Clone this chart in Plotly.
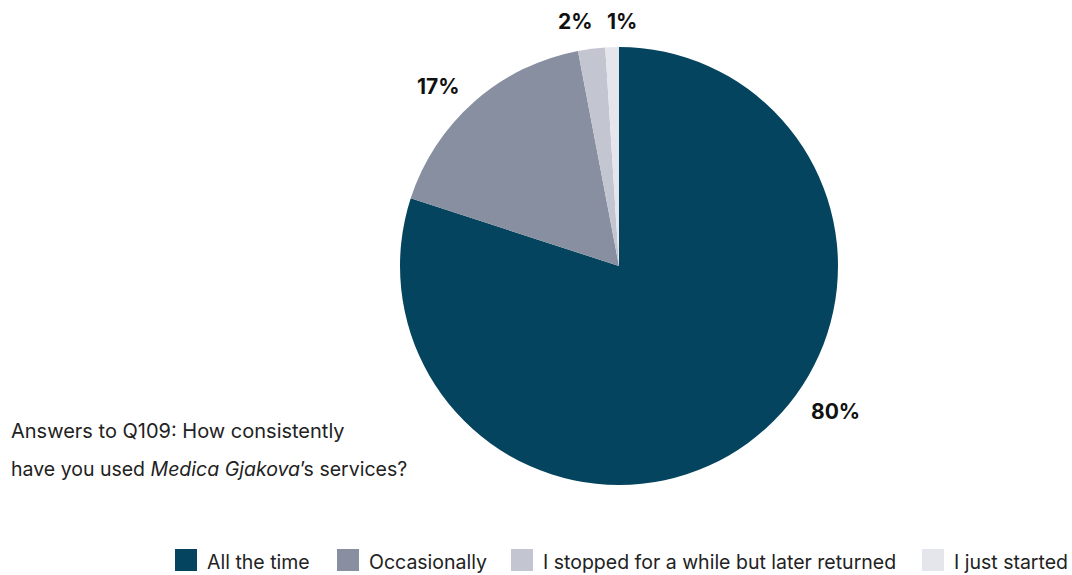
import plotly.graph_objects as go

# Survey answers (share of respondents, %)
categories = ["All the time", "Occasionally", "I stopped for a while but later returned", "I just started"]
values = [80, 17, 2, 1]
colors = ["#05445E", "#878FA0", "#C3C6D0", "#E4E6EC"]

W, H = 1072, 575

def px(x):
    return x / W

def py(y):
    return (H - y) / H

# Pie centred at (619, 266) px with radius 219 px
cx, cy, r = 619, 266, 219

fig = go.Figure(
    go.Pie(
        labels=categories,
        values=values,
        sort=False,
        direction="clockwise",
        rotation=0,
        marker=dict(colors=colors, line=dict(width=0)),
        textinfo="none",
        hoverinfo="label+percent",
        showlegend=False,
        domain=dict(x=[px(cx - r), px(cx + r)], y=[py(cy + r), py(cy - r)]),
    )
)

# Percentage labels placed around the pie
label_pos = [(835, 411), (438, 86), (575, 22), (622, 22)]
annotations = []
for (lx, ly), v in zip(label_pos, values):
    annotations.append(dict(x=px(lx), y=py(ly), xref="paper", yref="paper",
                            xanchor="center", yanchor="middle", text=f"{v}%", showarrow=False,
                            font=dict(family="Inter", size=21, color="#111111", weight=700)))

annotations += [
    dict(x=px(9), y=py(431), xref="paper", yref="paper", xanchor="left", yanchor="middle",
         text="Answers to Q109: How consistently", showarrow=False,
         font=dict(family="Inter", size=20, color="#222222")),
    dict(x=px(9), y=py(469), xref="paper", yref="paper", xanchor="left", yanchor="middle",
         text="have you used <i>Medica Gjakova</i>’s services?", showarrow=False,
         font=dict(family="Inter", size=19.5, color="#222222")),
]

# Legend drawn as square swatches with labels along the bottom
legend_x = [175, 337, 511, 922]
sq = 22
shapes = []
for lx, name, col in zip(legend_x, categories, colors):
    shapes.append(dict(type="rect", xref="paper", yref="paper",
                       x0=px(lx), x1=px(lx + sq), y0=py(549 + sq), y1=py(549),
                       fillcolor=col, line=dict(width=0)))
    annotations.append(dict(x=px(lx + sq + 8), y=py(562), xref="paper", yref="paper",
                            xanchor="left", yanchor="middle", text=name, showarrow=False,
                            font=dict(family="Inter", size=19.5, color="#222222")))

fig.update_layout(
    width=W, height=H,
    margin=dict(l=0, r=0, t=0, b=0),
    paper_bgcolor="white",
    plot_bgcolor="white",
    annotations=annotations,
    shapes=shapes,
)

fig.write_html("out.html")
